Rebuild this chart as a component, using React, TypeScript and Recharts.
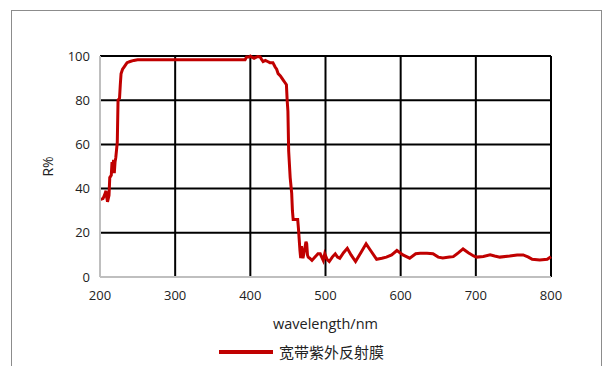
import { LineChart, Line, XAxis, YAxis, CartesianGrid, Legend } from 'recharts';

// wavelength (nm) and reflectance (%)
const WAVELENGTHS = [
  200, 204, 206, 208, 209, 210, 212, 213, 215, 216, 217, 218, 219, 220, 221, 223, 224, 226, 227, 228,
  230, 232, 234, 236, 240, 245, 250, 300, 350, 393, 395, 398, 400, 402, 405, 408, 410, 413, 415, 417,
  420, 423, 426, 430, 433, 435, 437, 440, 442, 444, 446, 448, 449, 450, 451, 453, 455, 456, 457, 460,
  463, 464, 465, 466, 467, 468, 469, 470, 472, 474, 475, 476, 477, 479, 482, 486, 490, 493, 497, 499,
  502, 505, 509, 513, 516, 519, 524, 529, 534, 540, 547, 554, 560, 568, 575, 581, 588, 595, 603, 612,
  620, 626, 635, 643, 650, 656, 665, 670, 677, 683, 690, 697, 701, 710, 719, 725, 732, 745, 755, 763,
  770, 775, 785, 795, 800,
];
const REFLECTANCE = [
  35, 35.5, 37, 39, 36, 34, 37, 45, 46, 52, 47, 53, 47, 52, 54, 61, 80, 81, 87, 92,
  94, 95, 96, 97, 97.5, 98, 98.3, 98.3, 98.3, 98.3, 99.5, 99.5, 100, 99.5, 99, 99.5, 99.8, 99.6, 98.5, 97.5,
  98, 97.5, 97, 97, 95, 94, 92, 91, 90, 89, 88, 87, 80, 75, 57, 45, 38, 30, 26, 26,
  26, 22, 17, 12, 8.5, 14, 11, 8.5, 12, 16, 15, 10, 9, 8.5, 7.5, 9, 10.5, 10.5, 7.5, 10.5,
  8, 7, 9, 10.5, 9, 8.5, 11, 13, 10, 7, 11, 15, 12, 8, 8.5, 9, 10, 12, 10, 8.5,
  10.5, 10.7, 10.7, 10.5, 9, 8.6, 9, 9.2, 11, 12.7, 11, 9.5, 9, 9.3, 10, 9.5, 9, 9.5, 10, 10,
  9, 8, 7.7, 8, 9.2,
];
const X_TICKS = [200, 300, 400, 500, 600, 700, 800];
const Y_TICKS = [0, 20, 40, 60, 80, 100];
const SERIES_NAME = '宽带紫外反射膜';

const data = WAVELENGTHS.map((w, i) => ({ w, r: REFLECTANCE[i] }));

const FONT = '"Open Sans", sans-serif';
const RED = '#c00000';

function LegendContent() {
  return (
    <div style={{ display: 'flex', alignItems: 'center', justifyContent: 'center', fontFamily: '"Noto Sans CJK SC", sans-serif', fontSize: 15, color: '#222' }}>
      <svg width={54} height={6} style={{ marginRight: 6 }}>
        <line x1={0} y1={3} x2={54} y2={3} stroke={RED} strokeWidth={4} />
      </svg>
      <span>{SERIES_NAME}</span>
    </div>
  );
}

export default function App() {
  return (
    <div style={{ position: 'fixed', left: 0, top: 0, width: 603, height: 366, overflow: 'hidden', background: '#fff' }}>
      <div style={{ position: 'absolute', left: 11, top: 10, width: 589, height: 400, border: '1px solid #8c8c8c' }} />
      <div style={{ position: 'absolute', left: 0, top: 0 }}>
        <LineChart width={603} height={366} data={data} margin={{ top: 56, right: 52, bottom: 59, left: 40 }}>
          <CartesianGrid stroke="#000" strokeWidth={2} />
          <XAxis
            dataKey="w"
            type="number"
            domain={[200, 800]}
            ticks={X_TICKS}
            height={30}
            stroke="#bfbfbf"
            strokeWidth={2}
            tickLine={false}
            tickSize={6}
            tickMargin={8}
            tick={{ fill: '#222', fontSize: 13, fontFamily: FONT }}
            label={{ value: 'wavelength/nm', position: 'bottom', offset: 12, fill: '#222', fontSize: 14.5, fontFamily: FONT }}
          />
          <YAxis
            type="number"
            domain={[0, 100]}
            ticks={Y_TICKS}
            width={60}
            stroke="#bfbfbf"
            strokeWidth={2}
            tickLine={false}
            tickSize={6}
            tickMargin={4}
            tick={{ fill: '#222', fontSize: 13, fontFamily: FONT }}
            label={{
              content: (p: any) => {
                const vb = p.viewBox;
                const x = vb.x + 7;
                const y = vb.y + vb.height / 2;
                return (
                  <text x={x} y={y} transform={`rotate(-90, ${x}, ${y})`} textAnchor="middle" dominantBaseline="central" fill="#222" fontSize={14} fontFamily={FONT}>
                    R%
                  </text>
                );
              },
            }}
          />
          <Legend layout="vertical" verticalAlign="middle" align="center" wrapperStyle={{ top: 341, left: 0, width: 603 }} content={() => <LegendContent />} />
          <Line dataKey="r" name={SERIES_NAME} type="linear" stroke={RED} strokeWidth={3} dot={false} isAnimationActive={false} />
        </LineChart>
      </div>
    </div>
  );
}
